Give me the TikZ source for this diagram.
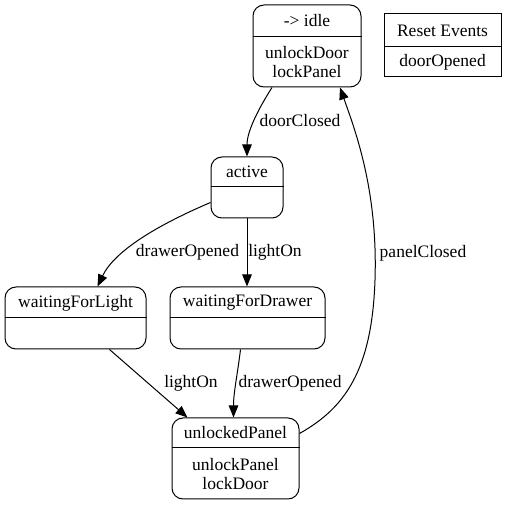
\documentclass[tikz,border=0pt]{standalone}
\usepackage{fontspec}
\setmainfont{Liberation Serif}
\usetikzlibrary{arrows.meta,calc}
\begin{document}
\begin{tikzpicture}[x=1pt,y=-1pt,
  font=\fontsize{17.5}{19}\selectfont,
  state/.style={draw, rounded corners=11pt, line width=1pt, inner sep=0pt},
  plainbox/.style={draw, line width=1pt, inner sep=0pt},
  divider/.style={line width=1pt},
  txt/.style={inner sep=0pt, align=center},
  edge/.style={line width=1pt, -{Triangle[length=12pt,width=9.5pt]}},
  lab/.style={inner sep=0pt}]
\useasboundingbox (0,0) rectangle (507,505);
\fill[white] (0,0) rectangle (507,505);

% states
\node[state, minimum width=108pt, minimum height=82pt] (idle) at (307,46) {};
\draw[divider] ($(idle.north west)+(0,32)$) -- ($(idle.north east)+(0,32)$);
\node[txt] (idleT) at (307,21) {-> idle};
\node[txt] (idleB) at (307,62) {unlockDoor\\lockPanel};

\node[plainbox, minimum width=117pt, minimum height=63pt] (reset) at (442.5,45.5) {};
\draw[divider] ($(reset.north west)+(0,33)$) -- ($(reset.north east)+(0,33)$);
\node[txt] (resetT) at (442.5,31) {Reset Events};
\node[txt] (resetB) at (442.5,62) {doorOpened};

\node[state, minimum width=72pt, minimum height=61pt] (active) at (247,187.5) {};
\draw[divider] ($(active.north west)+(0,30)$) -- ($(active.north east)+(0,30)$);
\node[txt] (activeT) at (247,172) {active};

\node[state, minimum width=141pt, minimum height=62pt] (wfl) at (75.5,318) {};
\draw[divider] ($(wfl.north west)+(0,31)$) -- ($(wfl.north east)+(0,31)$);
\node[txt] (wflT) at (75.5,303) {waitingForLight};

\node[state, minimum width=155pt, minimum height=62pt] (wfd) at (247.5,318) {};
\draw[divider] ($(wfd.north west)+(0,31)$) -- ($(wfd.north east)+(0,31)$);
\node[txt] (wfdT) at (247.5,303) {waitingForDrawer};

\node[state, minimum width=127pt, minimum height=81pt] (up) at (235.5,458.5) {};
\draw[divider] ($(up.north west)+(0,30)$) -- ($(up.north east)+(0,30)$);
\node[txt] (upT) at (235.5,433) {unlockedPanel};
\node[txt] (upB) at (235.5,474) {unlockPanel\\lockDoor};

% edges
\draw[edge] ($(idle.south)+(-35,0)$) .. controls +(-14,22) and +(0,-25) .. (active.north);
\node[lab] (l1) at (300,121) {doorClosed};

\draw[edge] ($(active.west)+(0,15)$) .. controls (160,224) and (115,250) .. ($(wfl.north)+(22,0)$);
\node[lab] (l2) at (187.5,252) {drawerOpened};

\draw[edge] (active.south) -- (active.south |- wfd.north);
\node[lab] (l3) at (275,252) {lightOn};

\draw[edge] ($(wfl.south)+(34,0)$) -- ($(up.north)+(-48,0)$);
\node[lab] (l4) at (191,383) {lightOn};

\draw[edge] ($(wfd.south)+(-7,0)$) .. controls +(-3,25) and +(0,-25) .. ($(up.north)+(-2,0)$);
\node[lab] (l5) at (290,383) {drawerOpened};

\draw[edge] ($(up.east)+(0,-25)$) .. controls (345,408) and (372,370) .. (375,280) .. controls (378,190) and (355,130) .. ($(idle.south)+(33,0)$);
\node[lab] (l6) at (423,253) {panelClosed};
\end{tikzpicture}
\end{document}
